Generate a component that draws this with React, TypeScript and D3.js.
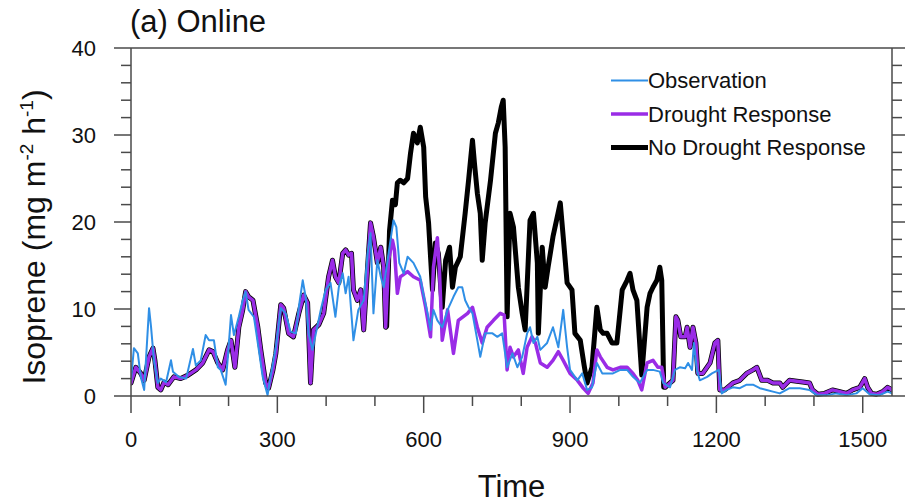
import React from "react";
import * as d3 from "d3";

// ---- data (time, isoprene) ----
const observation: [number, number][] = [
  [0,1.8],[6,5.5],[14,4.9],[20,2.2],[27,0.7],[37,10.1],[41,8],[47,4.1],[55,1.5],[61,2],[72,1.6],[82,4.1],[86,2.8],[98,2.2],[113,2],
  [127,5.4],[133,3.5],[143,4.1],[153,7],[160,6.4],[170,6.4],[178,3.3],[184,3],[194,1.3],[198,4.1],[205,9.3],[211,7],[221,9.1],[229,11],
  [235,12],[241,9.9],[252,9.1],[262,5.3],[270,2.2],[280,0.1],[286,2.2],[297,5.6],[307,10.1],[317,9.5],[327,7.4],[338,7.2],[344,10.2],
  [352,13.3],[358,11.4],[364,7.2],[372,5.3],[379,7.2],[389,9.9],[399,12.2],[409,13],[419,9.1],[426,12.5],[434,14.1],[440,11.8],[446,13.7],
  [456,6.4],[466,9.9],[477,11],[485,16.4],[491,18.7],[497,9.5],[505,15.6],[512,13.7],[518,12.5],[526,15.6],[534,18.7],[538,20.2],[544,19.4],
  [550,15.3],[559,14.1],[567,16],[579,15.3],[593,13.7],[599,11.8],[608,9.5],[614,7.6],[620,9.9],[628,8.7],[638,7.9],[649,9.9],[661,11.4],
  [671,12.5],[679,12.5],[685,11],[692,10.2],[700,9.5],[710,6.4],[716,4.5],[726,7.2],[741,7.2],[751,6.8],[761,7.2],[771,3.3],[782,4.9],
  [792,3.3],[802,4.5],[812,7.2],[818,7.9],[825,6.1],[833,6.8],[839,5.3],[853,6.1],[865,7.9],[876,5.6],[886,9.9],[894,5.6],[900,3.0],
  [915,1.8],[925,2.6],[935,0.7],[945,1.0],[955,3.8],[966,2.6],[988,2.6],[1003,3.0],[1017,3.0],[1029,2.2],[1043,1.5],[1058,3.0],[1070,3.0],
  [1084,2.8],[1091,1.5],[1105,1.0],[1115,3.0],[1125,3.3],[1136,3.2],[1142,3.8],[1150,3.0],[1154,6.1],[1160,3.0],[1166,1.8],[1181,2.2],
  [1191,2.6],[1205,3.0],[1211,0.3],[1221,0.7],[1234,1.0],[1248,0.9],[1262,1.3],[1275,1.3],[1289,0.9],[1303,0.7],[1316,0.5],[1330,0.3],
  [1350,0.9],[1371,0.9],[1391,0.7],[1406,0.1],[1426,0.1],[1446,0.3],[1467,0.1],[1487,0.3],[1500,0.9],[1514,0.2],[1534,0.1],[1551,0.5],[1560,0.3]
];

const droughtResponse: [number, number][] = [
  [0,1.5],[10,3.3],[20,2.6],[27,1.8],[37,4.5],[45,5.5],[49,4.1],[55,1.0],[61,0.7],[68,1.6],[76,1.3],[88,2.2],[102,2],[117,2.4],[133,3],
  [147,3.8],[160,5.3],[168,5.1],[178,3.8],[188,3],[198,5.3],[205,6.4],[213,3.3],[221,7.9],[229,9.9],[235,12],[241,11.4],[250,11],[260,7.9],
  [266,5.3],[276,1.5],[282,0.9],[291,3],[297,4.9],[307,10.5],[313,10.1],[323,7.2],[333,6.8],[344,9.5],[354,11.6],[362,10.7],[368,1.5],
  [374,7.6],[385,8.2],[395,9.5],[405,13.7],[413,15.6],[419,13.7],[426,13],[434,16.4],[440,16.8],[446,16.2],[452,16.4],[456,12.2],[464,11],
  [471,12.2],[477,7.6],[485,14.8],[491,19.9],[497,18.3],[505,15.3],[512,17.1],[518,14.8],[522,7.9],[528,15.6],[536,17.9],[540,16.8],
  [546,11.8],[552,13.7],[567,14.3],[579,13.7],[593,13.3],[604,10.2],[614,6.8],[620,14.8],[628,18.2],[632,14.8],[638,6.4],[649,9.9],
  [661,4.9],[671,8.7],[690,9.5],[700,10.2],[710,7.9],[720,6.1],[730,7.9],[743,8.7],[757,9.5],[765,9.3],[771,3.0],[777,5.6],[784,4.5],
  [794,5.3],[804,2.6],[812,5.6],[822,6.8],[829,6.1],[839,3.8],[853,3.3],[865,4.1],[876,5.1],[886,4.1],[900,2.6],[915,1.8],[927,0.9],
  [937,0.3],[947,1.5],[955,5.3],[962,4.5],[976,3.3],[988,3.0],[1003,3.3],[1017,3.3],[1029,2.6],[1039,1.8],[1047,0.7],[1058,3.8],[1070,4.1],
  [1080,3.3],[1088,3.3],[1095,1.0],[1105,1.5],[1111,1.8],[1117,9.1],[1121,8.7],[1127,6.8],[1136,6.8],[1140,7.9],[1146,5.6],[1152,7.9],
  [1158,6.1],[1162,2.6],[1172,2.6],[1187,3.8],[1197,6.1],[1203,6.4],[1207,0.7],[1217,0.7],[1234,1.5],[1248,1.8],[1262,2.6],[1275,3.0],
  [1283,3.3],[1293,1.8],[1305,1.8],[1316,1.5],[1330,1.5],[1336,1.0],[1350,1.8],[1365,1.7],[1377,1.6],[1391,1.5],[1397,0.7],[1408,0.2],
  [1422,0.3],[1438,0.7],[1453,0.5],[1467,0.3],[1479,0.7],[1494,1.0],[1504,2.0],[1510,1.0],[1518,0.3],[1528,0.2],[1541,0.5],[1551,1.0],[1560,0.7]
];

// No-drought run: identical to the drought run outside this window
const noDroughtStart = 522;
const noDroughtEnd = 1092;
const noDroughtWindow: [number, number][] = [
  [524,8],[530,19],[536,22.5],[542,22],[546,24.5],[552,24.8],[559,24.5],[567,25],[573,27.9],[579,30.2],[587,29.1],[593,30.9],[600,28.6],
  [604,22.9],[610,19.9],[618,12.2],[624,17.6],[630,16.4],[638,10.2],[645,15.6],[653,17.1],[659,12.5],[665,14.8],[675,16],[685,21],
  [692,24.8],[700,29.4],[704,26.8],[710,23.3],[716,21],[720,15.6],[726,19.9],[737,24.8],[747,30.2],[753,31.4],[759,33.2],[763,34.0],
  [767,28.6],[771,9.1],[777,21],[784,19.4],[794,12.5],[802,9.5],[808,7.6],[818,20.2],[825,21],[833,15.3],[835,7.2],[843,17.1],[849,12.5],
  [855,14.8],[865,18.3],[880,22.2],[886,18.3],[894,13],[904,12.2],[910,7.2],[921,6.4],[929,3.5],[935,1.5],[945,3.3],[955,10.2],[962,7.6],
  [968,7.2],[976,7.2],[986,6.1],[996,6.1],[1007,12.2],[1017,13.3],[1023,14.1],[1029,12.2],[1037,11],[1047,2.4],[1058,10.2],[1064,11.8],
  [1070,12.5],[1078,13.3],[1084,14.8],[1088,13.3],[1092,1.0]
];

const noDroughtResponse: [number, number][] = [
  ...droughtResponse.filter(d => d[0] <= noDroughtStart),
  ...noDroughtWindow,
  ...droughtResponse.filter(d => d[0] > noDroughtEnd),
];

const xMajorTicks = [0, 300, 600, 900, 1200, 1500];
const xMinorTicks = [100, 200, 400, 500, 700, 800, 1000, 1100, 1300, 1400];
const yMajorTicks = [0, 10, 20, 30, 40];
const yMinorTicks = [2, 4, 6, 8, 12, 14, 16, 18, 22, 24, 26, 28, 32, 34, 36, 38];

const legendItems = [
  { label: "Observation", color: "#2f8fe6", width: 2 },
  { label: "Drought Response", color: "#9a2ce6", width: 3.5 },
  { label: "No Drought Response", color: "#000000", width: 5 },
];

const FONT = "'Liberation Sans', Arial, Helvetica, sans-serif";

export default function App() {
  const W = 905, H = 504;
  const left = 131, right = 892, top = 48, bottom = 396;
  const x = d3.scaleLinear().domain([0, 1560]).range([left, right]);
  const y = d3.scaleLinear().domain([0, 40]).range([bottom, top]);
  const line = d3.line<[number, number]>().x(d => x(d[0])).y(d => y(d[1]));
  const axisColor = "#4a4a4a";
  const majorLen = 17, minorLen = 10;

  return (
    <svg width={W} height={H} style={{ position: "absolute", left: 0, top: 0, background: "#fff" }}
      fontFamily={FONT}>
      <rect x={0} y={0} width={W} height={H} fill="#fff" />
      <defs>
        <clipPath id="plotclip">
          <rect x={left} y={top} width={right - left} height={bottom - top + 2} />
        </clipPath>
      </defs>

      {/* data lines */}
      <g clipPath="url(#plotclip)" fill="none" strokeLinejoin="round" strokeLinecap="round">
        <path d={line(noDroughtResponse) || ""} stroke={legendItems[2].color} strokeWidth={legendItems[2].width} />
        <path d={line(droughtResponse) || ""} stroke={legendItems[1].color} strokeWidth={legendItems[1].width} />
        <path d={line(observation) || ""} stroke={legendItems[0].color} strokeWidth={legendItems[0].width} />
      </g>

      {/* frame */}
      <g stroke={axisColor} strokeWidth={1.5} fill="none">
        <line x1={left} y1={top} x2={right} y2={top} />
        <line x1={left} y1={bottom} x2={right} y2={bottom} />
        <line x1={left} y1={top} x2={left} y2={bottom} />
        <line x1={right} y1={top} x2={right} y2={bottom} />
        {yMajorTicks.map(t => (
          <g key={"ym" + t}>
            <line x1={left - majorLen} x2={left} y1={y(t)} y2={y(t)} />
            <line x1={right} x2={right + majorLen} y1={y(t)} y2={y(t)} />
          </g>
        ))}
        {yMinorTicks.map(t => (
          <g key={"yn" + t}>
            <line x1={left - minorLen} x2={left} y1={y(t)} y2={y(t)} />
            <line x1={right} x2={right + minorLen} y1={y(t)} y2={y(t)} />
          </g>
        ))}
        {xMajorTicks.map(t => (
          <line key={"xm" + t} x1={x(t)} x2={x(t)} y1={bottom} y2={bottom + majorLen} />
        ))}
        {xMinorTicks.map(t => (
          <line key={"xn" + t} x1={x(t)} x2={x(t)} y1={bottom} y2={bottom + minorLen} />
        ))}
      </g>

      {/* tick labels */}
      <g fontSize={22} fill="#111">
        {yMajorTicks.map(t => (
          <text key={"yl" + t} x={96} y={y(t) + 8} textAnchor="end">{t}</text>
        ))}
        {xMajorTicks.map(t => (
          <text key={"xl" + t} x={x(t)} y={447} textAnchor="middle">{t}</text>
        ))}
      </g>

      {/* titles */}
      <text x={130} y={32} fontSize={31} fill="#111">(a) Online</text>
      <text x={(left + right) / 2} y={497} fontSize={31} fill="#111" textAnchor="middle">Time</text>
      <text transform={`translate(45, 237) rotate(-90)`} fontSize={32} fill="#111" textAnchor="middle">
        Isoprene (mg m<tspan fontSize={19} dy={-12}>-2</tspan><tspan dy={12}> h</tspan><tspan fontSize={19} dy={-12}>-1</tspan><tspan dy={12}>)</tspan>
      </text>

      {/* legend */}
      {legendItems.map((it, i) => (
        <g key={it.label}>
          <line x1={611} x2={648} y1={80.5 + i * 33.5} y2={80.5 + i * 33.5} stroke={it.color} strokeWidth={it.width} />
          <text x={648} y={88 + i * 33.5} fontSize={22} fill="#111">{it.label}</text>
        </g>
      ))}
    </svg>
  );
}
